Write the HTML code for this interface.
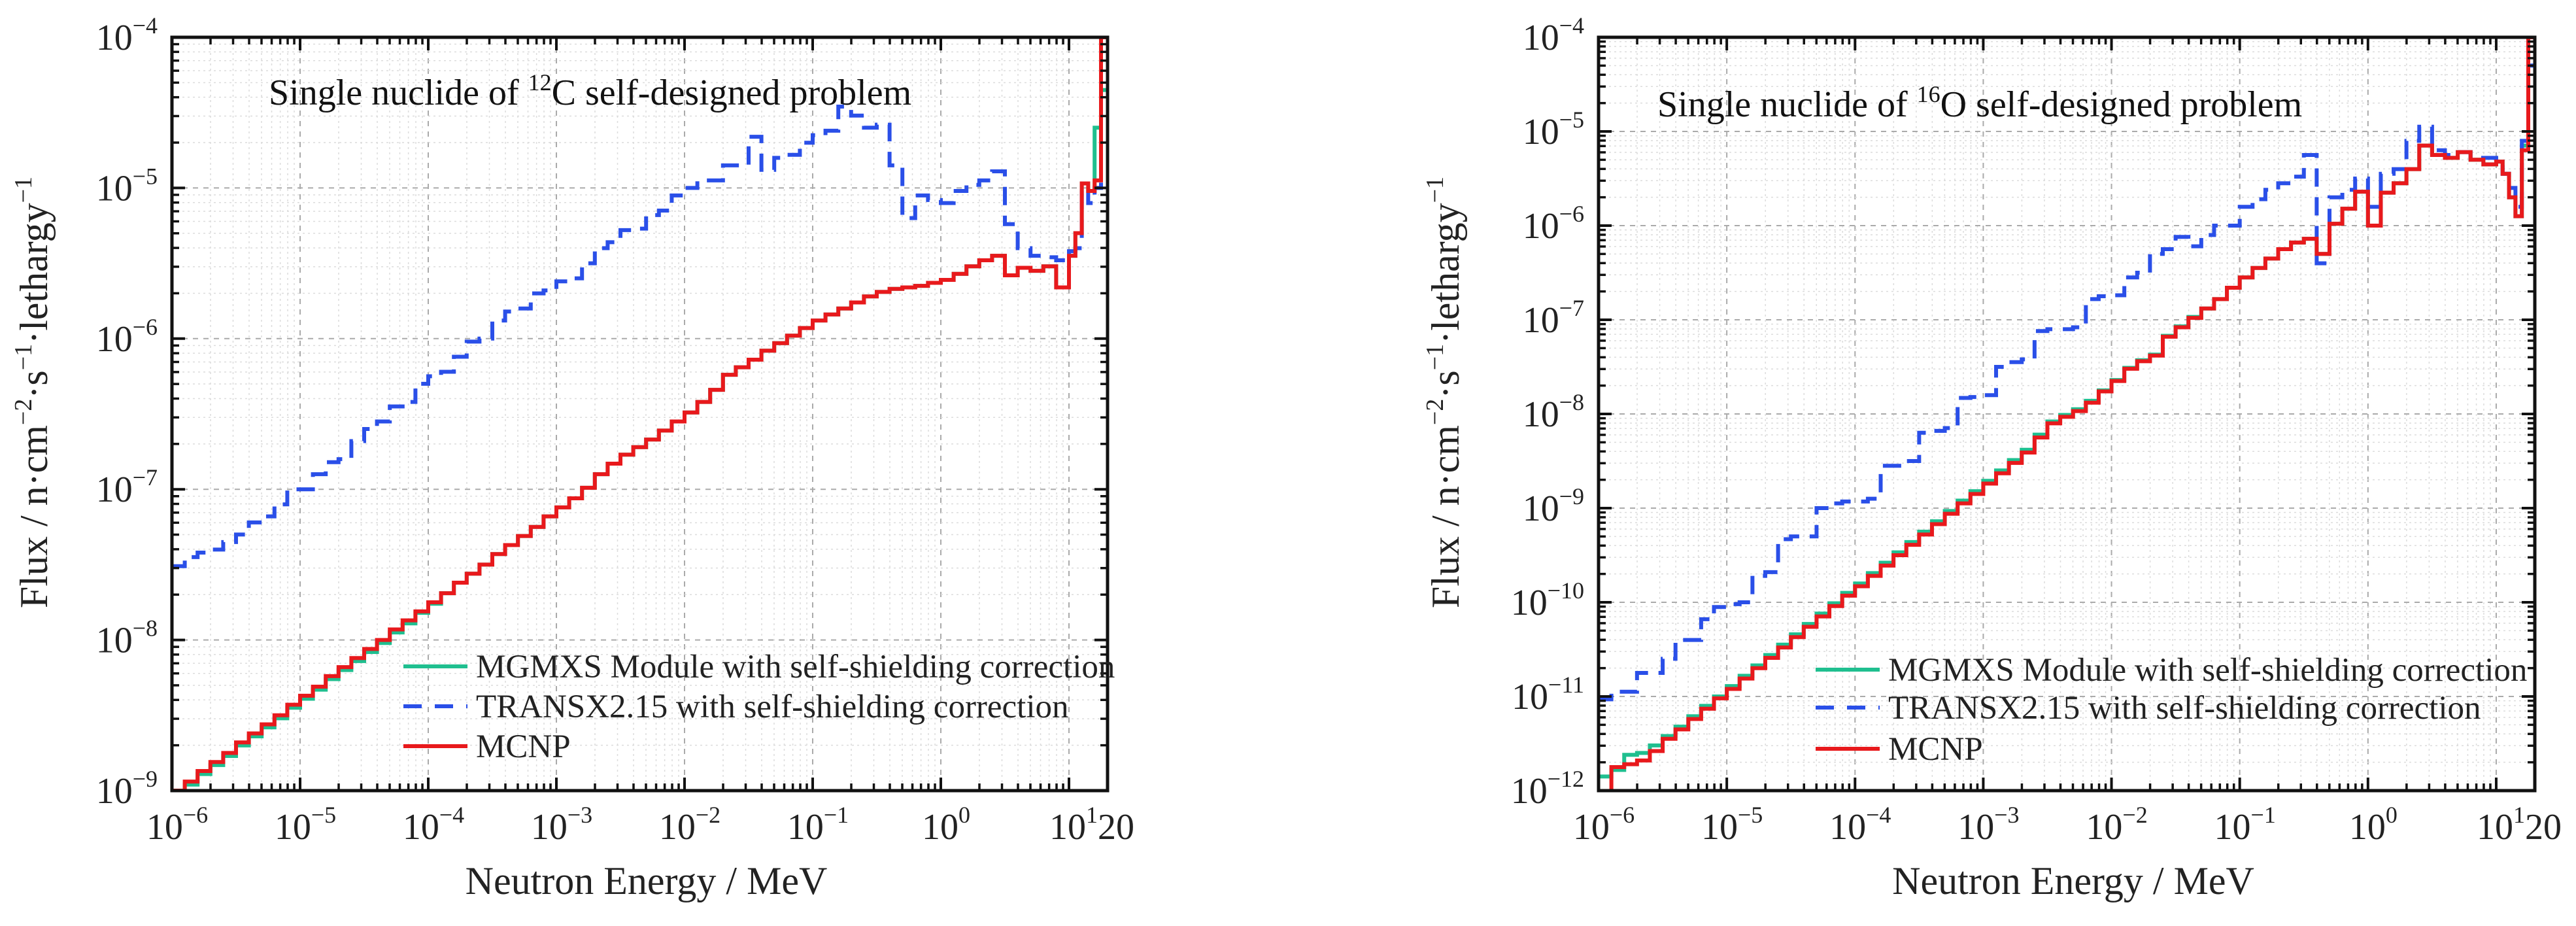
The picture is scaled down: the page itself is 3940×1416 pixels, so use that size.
<!DOCTYPE html>
<html><head><meta charset="utf-8"><title>Neutron flux spectra</title>
<style>html,body{margin:0;padding:0;background:#fff;}svg{display:block;font-family:"Liberation Serif",serif;}</style>
</head><body>
<svg id="fig" width="3940" height="1416" viewBox="0 0 3940 1416" xmlns="http://www.w3.org/2000/svg"></svg>
<script>
// Shared energy group edges (log10 MeV)
const logE = [-6.0,-5.9,-5.8,-5.7,-5.6,-5.5,-5.4,-5.3,-5.2,-5.1,-5.0,-4.9,-4.8,-4.7,-4.6,-4.5,-4.4,-4.3,-4.2,-4.1,-4.0,-3.9,-3.8,-3.7,-3.6,-3.5,-3.4,-3.3,-3.2,-3.1,-3.0,-2.9,-2.8,-2.7,-2.6,-2.5,-2.4,-2.3,-2.2,-2.1,-2.0,-1.9,-1.8,-1.7,-1.6,-1.5,-1.4,-1.3,-1.2,-1.1,-1.0,-0.9,-0.8,-0.7,-0.6,-0.5,-0.4,-0.3,-0.2,-0.1,0.0,0.1,0.2,0.3,0.4,0.5,0.6,0.7,0.8,0.9,1.0,1.05,1.1,1.15,1.2,1.25,1.301];

// 12C (log10 flux per group)
const c12Mcnp = [-9.00,-8.94,-8.87,-8.81,-8.75,-8.68,-8.62,-8.56,-8.50,-8.43,-8.37,-8.31,-8.24,-8.18,-8.12,-8.06,-8.00,-7.93,-7.87,-7.81,-7.75,-7.69,-7.62,-7.56,-7.50,-7.43,-7.37,-7.31,-7.25,-7.18,-7.12,-7.06,-6.99,-6.90,-6.83,-6.77,-6.72,-6.67,-6.61,-6.55,-6.49,-6.42,-6.34,-6.24,-6.19,-6.14,-6.08,-6.03,-5.98,-5.93,-5.88,-5.84,-5.80,-5.76,-5.72,-5.69,-5.67,-5.66,-5.65,-5.63,-5.61,-5.57,-5.52,-5.48,-5.45,-5.58,-5.53,-5.55,-5.52,-5.66,-5.45,-5.30,-4.97,-5.02,-4.95,-4.00];
const c12Mgmxs = [-9.02,-8.96,-8.89,-8.83,-8.77,-8.70,-8.64,-8.58,-8.52,-8.45,-8.39,-8.33,-8.26,-8.20,-8.14,-8.08,-8.02,-7.95,-7.89,-7.82,-7.76,-7.69,-7.62,-7.56,-7.50,-7.43,-7.37,-7.31,-7.25,-7.18,-7.12,-7.06,-6.99,-6.90,-6.83,-6.77,-6.72,-6.67,-6.61,-6.55,-6.49,-6.42,-6.34,-6.24,-6.19,-6.14,-6.08,-6.03,-5.98,-5.93,-5.88,-5.84,-5.80,-5.76,-5.72,-5.69,-5.67,-5.66,-5.65,-5.63,-5.61,-5.57,-5.52,-5.48,-5.45,-5.58,-5.53,-5.55,-5.52,-5.66,-5.45,-5.30,-4.97,-5.02,-4.60,-4.35];
const c12Transx = [-7.51,-7.45,-7.42,-7.40,-7.35,-7.30,-7.22,-7.18,-7.10,-7.00,-7.00,-6.90,-6.82,-6.80,-6.68,-6.60,-6.55,-6.45,-6.42,-6.30,-6.25,-6.22,-6.12,-6.02,-6.00,-5.88,-5.82,-5.80,-5.70,-5.68,-5.62,-5.60,-5.50,-5.40,-5.36,-5.28,-5.27,-5.18,-5.15,-5.05,-5.00,-4.95,-4.95,-4.85,-4.85,-4.66,-4.88,-4.80,-4.78,-4.70,-4.65,-4.62,-4.46,-4.52,-4.60,-4.58,-4.85,-5.20,-5.05,-5.08,-5.10,-5.02,-4.98,-4.95,-4.89,-5.24,-5.40,-5.45,-5.46,-5.48,-5.42,-5.40,-5.00,-5.10,-5.00,-4.36];

// 16O
const o16Mcnp = [-12.10,-11.75,-11.72,-11.68,-11.58,-11.45,-11.35,-11.24,-11.13,-11.02,-10.92,-10.81,-10.70,-10.59,-10.48,-10.37,-10.26,-10.15,-10.04,-9.93,-9.83,-9.72,-9.61,-9.50,-9.39,-9.28,-9.17,-9.06,-8.95,-8.85,-8.74,-8.63,-8.52,-8.41,-8.25,-8.10,-8.03,-7.97,-7.88,-7.76,-7.65,-7.52,-7.44,-7.38,-7.18,-7.08,-6.98,-6.88,-6.78,-6.66,-6.55,-6.45,-6.35,-6.25,-6.18,-6.14,-6.30,-5.98,-5.82,-5.64,-6.00,-5.65,-5.55,-5.40,-5.15,-5.25,-5.28,-5.22,-5.30,-5.35,-5.32,-5.45,-5.70,-5.90,-5.20,-4.00];
const o16Mgmxs = [-11.85,-11.78,-11.62,-11.60,-11.52,-11.42,-11.32,-11.21,-11.10,-11.00,-10.89,-10.78,-10.67,-10.56,-10.45,-10.34,-10.23,-10.12,-10.01,-9.90,-9.80,-9.69,-9.58,-9.47,-9.36,-9.25,-9.14,-9.03,-8.92,-8.82,-8.71,-8.60,-8.49,-8.38,-8.22,-8.08,-8.01,-7.95,-7.86,-7.75,-7.64,-7.51,-7.43,-7.37,-7.17,-7.07,-6.97,-6.88,-6.78,-6.66,-6.55,-6.45,-6.35,-6.25,-6.18,-6.14,-6.30,-5.98,-5.82,-5.64,-6.00,-5.65,-5.55,-5.40,-5.15,-5.25,-5.28,-5.22,-5.30,-5.35,-5.32,-5.45,-5.70,-5.90,-5.15,-4.30];
const o16Transx = [-11.03,-10.95,-10.95,-10.75,-10.75,-10.60,-10.40,-10.40,-10.18,-10.05,-10.02,-10.00,-9.72,-9.68,-9.33,-9.30,-9.30,-9.00,-8.95,-8.93,-8.93,-8.90,-8.55,-8.55,-8.50,-8.20,-8.18,-8.15,-7.83,-7.82,-7.80,-7.50,-7.45,-7.42,-7.12,-7.10,-7.10,-7.08,-6.78,-6.75,-6.74,-6.55,-6.50,-6.30,-6.25,-6.12,-6.22,-6.10,-6.00,-6.00,-5.80,-5.72,-5.62,-5.55,-5.48,-5.25,-6.40,-5.70,-5.62,-5.50,-5.80,-5.45,-5.40,-5.10,-4.95,-5.20,-5.25,-5.22,-5.28,-5.28,-5.30,-5.45,-5.60,-5.80,-5.10,-4.30];

const xTickExp = [-6,-5,-4,-3,-2,-1,0];
const c12YTickExp = [-9,-8,-7,-6,-5,-4];
const o16YTickExp = [-12,-11,-10,-9,-8,-7,-6,-5,-4];
const legendLabels = ["MGMXS Module with self-shielding correction","TRANSX2.15 with self-shielding correction","MCNP"];

const NS = "http://www.w3.org/2000/svg";
const svg = document.getElementById('fig');
function mk(tag, attrs, parent){const e=document.createElementNS(NS,tag);for(const k in attrs)e.setAttribute(k,attrs[k]);(parent||svg).appendChild(e);return e;}

function drawPlot(cfg){
  const g = mk('g',{});
  
  
  const X = v => cfg.x0 + (v - (-6)) / (Math.log10(20) + 6) * (cfg.x1 - cfg.x0);
  const Y = v => cfg.y1 - (v - cfg.ymin) / (cfg.ymax - cfg.ymin) * (cfg.y1 - cfg.y0);
  const clipId = 'clip-' + cfg.name;
  const cp = mk('clipPath',{id:clipId},g);
  mk('rect',{x:cfg.x0,y:cfg.y0,width:cfg.x1-cfg.x0,height:cfg.y1-cfg.y0},cp);
  const grid = mk('g',{},g);
  
  
  for(let d=-6; d<=1; d++){
    for(let m=1;m<=9;m++){
      const lv = d + Math.log10(m); if(lv > Math.log10(20)) break;
      const xx = X(lv);
      if(m===1) mk('line',{x1:xx,x2:xx,y1:cfg.y0,y2:cfg.y1,stroke:'#aaa','stroke-width':2,'stroke-dasharray':'8 8'},grid);
      else mk('line',{x1:xx,x2:xx,y1:cfg.y0,y2:cfg.y1,stroke:'#dcdcdc','stroke-width':1.5,'stroke-dasharray':'3 5'},grid);
    }
  }
  for(let d=cfg.ymin; d<cfg.ymax; d++){
    for(let m=1;m<=9;m++){
      const yy = Y(d + Math.log10(m));
      if(m===1) mk('line',{x1:cfg.x0,x2:cfg.x1,y1:yy,y2:yy,stroke:'#aaa','stroke-width':2,'stroke-dasharray':'8 8'},grid);
      else mk('line',{x1:cfg.x0,x2:cfg.x1,y1:yy,y2:yy,stroke:'#dcdcdc','stroke-width':1.5,'stroke-dasharray':'3 5'},grid);
    }
  }
  function step(vals){
    let d = 'M' + X(logE[0]) + ' ' + Y(vals[0]);
    for(let i=0;i<vals.length;i++){
      d += ' H' + X(logE[i+1]);
      if(i+1 < vals.length) d += ' V' + Y(vals[i+1]);
    }
    return d;
  }
  const sg = mk('g',{'clip-path':'url(#'+clipId+')'},g);
  const p1 = mk('path',{d:step(cfg.mgmxs),fill:'none',stroke:'#1fbf8f','stroke-width':6},sg);
  
  
  const p2 = mk('path',{d:step(cfg.transx),fill:'none',stroke:'#2a4fe8','stroke-width':6,'stroke-dasharray':'28 16'},sg);
  
  
  const p3 = mk('path',{d:step(cfg.mcnp),fill:'none',stroke:'#e8191c','stroke-width':6},sg);
  
  
  const tk = mk('g',{stroke:'#111'},g);
  
  
  for(let d=-6; d<=1; d++){
    for(let m=1;m<=9;m++){
      const lv = d + Math.log10(m); if(lv > Math.log10(20)) break;
      const xx = X(lv), L = m===1?20:11, w = m===1?4:3.5;
      mk('line',{x1:xx,x2:xx,y1:cfg.y1,y2:cfg.y1-L,'stroke-width':w},tk);
      mk('line',{x1:xx,x2:xx,y1:cfg.y0,y2:cfg.y0+L,'stroke-width':w},tk);
    }
  }
  for(let d=cfg.ymin; d<cfg.ymax; d++){
    for(let m=1;m<=9;m++){
      const yy = Y(d + Math.log10(m)), L = m===1?20:11, w = m===1?4:3.5;
      mk('line',{x1:cfg.x0,x2:cfg.x0+L,y1:yy,y2:yy,'stroke-width':w},tk);
      mk('line',{x1:cfg.x1,x2:cfg.x1-L,y1:yy,y2:yy,'stroke-width':w},tk);
    }
  }
  const fr = mk('rect',{x:cfg.x0,y:cfg.y0,width:cfg.x1-cfg.x0,height:cfg.y1-cfg.y0,fill:'none',stroke:'#111','stroke-width':5},g);
  
  
  for(const e of xTickExp){
    const t = mk('text',{x:X(e)+8,y:1283,'text-anchor':'middle','font-size':56,fill:'#222'},g);
    
    
    t.appendChild(document.createTextNode('10'));
    const s = mk('tspan',{'font-size':36,dy:-25},t); s.textContent = e<0 ? '\u2212'+(-e) : String(e);
  }
  const tl = mk('text',{x:X(1)-30,y:1283,'font-size':56,fill:'#222'},g);
  
  
  tl.appendChild(document.createTextNode('10'));
  const s1 = mk('tspan',{'font-size':36,dy:-25},tl); s1.textContent='1';
  const s2 = mk('tspan',{dy:25},tl); s2.textContent='20';
  for(const e of cfg.yTicks){
    const t = mk('text',{x:cfg.x0-22,y:Y(e)+19,'text-anchor':'end','font-size':56,fill:'#222'},g);
    
    
    t.appendChild(document.createTextNode('10'));
    const s = mk('tspan',{'font-size':36,dy:-25},t); s.textContent = '\u2212'+(-e);
  }
  const xt = mk('text',{x:(cfg.x0+cfg.x1)/2 + 10,y:1367,'text-anchor':'middle','font-size':60,fill:'#222'},g);
  
  
  xt.textContent = 'Neutron Energy / MeV';
  const yt = mk('text',{transform:'translate('+(cfg.ytx+20)+',600) rotate(-90)','text-anchor':'middle','font-size':60,fill:'#222'},g);
  
  
  yt.appendChild(document.createTextNode('Flux / n\u00b7cm'));
  let a = mk('tspan',{'font-size':38,dy:-24},yt); a.textContent='\u22122';
  a = mk('tspan',{dy:24},yt); a.textContent='\u00b7s';
  a = mk('tspan',{'font-size':38,dy:-24},yt); a.textContent='\u22121';
  a = mk('tspan',{dy:24},yt); a.textContent='\u00b7lethargy';
  a = mk('tspan',{'font-size':38,dy:-24},yt); a.textContent='\u22121';
  const ti = mk('text',{x:cfg.tx,y:cfg.ty,'font-size':56,fill:'#111'},g);
  
  
  ti.appendChild(document.createTextNode('Single nuclide of '));
  a = mk('tspan',{'font-size':36,dy:-22},ti); a.textContent = cfg.mass;
  a = mk('tspan',{dy:22},ti); a.textContent = cfg.elem + ' self-designed problem';
  const lg = mk('g',{},g);
  
  
  const cols = ['#1fbf8f','#2a4fe8','#e8191c'];
  for(let i=0;i<3;i++){
    const yy = cfg.ly[i];
    const ln = mk('line',{x1:cfg.lx,x2:cfg.lx+98,y1:yy,y2:yy,stroke:cols[i],'stroke-width':6},lg);
    if(i===1) ln.setAttribute('stroke-dasharray','28 20');
    
    
    const lt = mk('text',{x:cfg.lx+111,y:yy+17,'font-size':51,fill:'#222'},lg);
    
    
    lt.textContent = legendLabels[i];
  }
}

drawPlot({name:'c12-plot',x0:263,x1:1694,y0:57,y1:1209,ymin:-9,ymax:-4,yTicks:c12YTickExp,
  mcnp:c12Mcnp,mgmxs:c12Mgmxs,transx:c12Transx,ytx:52,tx:411,ty:160,mass:'12',elem:'C',
  lx:617,ly:[1019,1080,1141]});
drawPlot({name:'o16-plot',x0:2445,x1:3877,y0:57,y1:1209,ymin:-12,ymax:-4,yTicks:o16YTickExp,
  mcnp:o16Mcnp,mgmxs:o16Mgmxs,transx:o16Transx,ytx:2211,tx:2535,ty:178,mass:'16',elem:'O',
  lx:2777,ly:[1024,1082,1145]});
</script>
</body></html>
